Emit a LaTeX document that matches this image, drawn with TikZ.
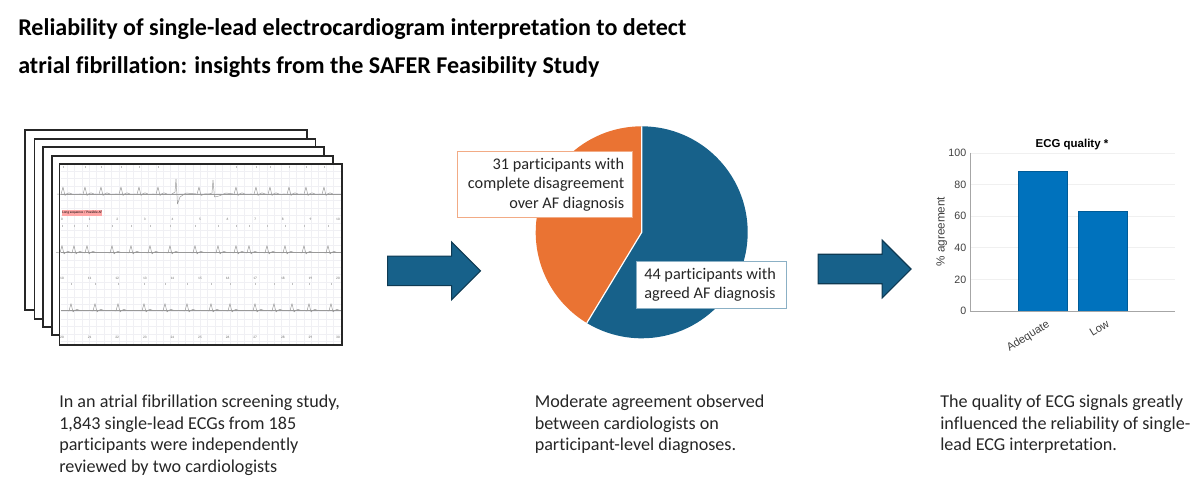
\documentclass[tikz,border=0pt]{standalone}
\usepackage{fontspec}
\setmainfont[Ligatures=CommonOff]{Carlito}
\newfontfamily\chartfont{Liberation Sans}
\usepackage{tikz}
\usetikzlibrary{shapes.arrows}
\definecolor{pieblue}{HTML}{17618A}
\definecolor{pieorange}{HTML}{EA7333}
\definecolor{barblue}{HTML}{0072BD}
\definecolor{chartgray}{HTML}{404040}
\tikzstyle{headline}=[anchor=base west, inner sep=0, font=\fontsize{18.05}{18}\selectfont\bfseries, text=black]
\tikzstyle{caption}=[anchor=north west, inner sep=0, align=flush left, font=\fontsize{13.6}{16.3}\selectfont, text=black!85]
\tikzstyle{piebox}=[rectangle, fill=white, inner xsep=6pt, inner ysep=0, outer sep=0, font=\fontsize{12.2}{14.5}\selectfont, text=black!85]
\tikzstyle{flowarrow}=[single arrow, anchor=tip, draw=pieblue!60!black, fill=pieblue, line width=.8pt, inner xsep=0, inner ysep=10.65pt, outer sep=0,
  minimum height=69.7pt, single arrow head extend=10.65pt, single arrow tip angle=90]
\tikzstyle{ecgsheet}=[draw=black!85, fill=white, line width=1.1pt]
\tikzstyle{ecgtrace}=[draw=black!40, line width=.35pt, line join=round]
\tikzstyle{ecggrid}=[draw=blue!30!black!6, line width=.2pt]
\tikzstyle{ecgnum}=[inner sep=0, font=\fontsize{2.6}{3}\selectfont, text=black!60]
\tikzstyle{ticklabel}=[inner sep=0, font=\chartfont\fontsize{8}{8}\selectfont, text=chartgray]
\tikzstyle{catlabel}=[inner sep=0, anchor=north east, rotate=32, font=\chartfont\fontsize{8.4}{8}\selectfont, text=chartgray]
\tikzstyle{barbox}=[fill=barblue, draw=barblue!80!black, line width=.3pt]
% one row of the strip: baseline, then beat positions
\newcommand{\ecgrow}[2]{
  \foreach \b in {#2}{
    \draw[ecgtrace] (\b-6,#1) -- (\b-2,#1-.4) -- (\b,#1+7) -- (\b+2,#1-1.5) -- (\b+3.5,#1) -- (\b+6,#1+1.2) -- (\b+9,#1);
    \draw[black!25, line width=.2pt] (\b,#1+28) -- (\b,#1+26);
  }
  \draw[ecgtrace] (60.5,#1) -- (341,#1);
}
\begin{document}
\begin{tikzpicture}[x=.75pt,y=.75pt]
\useasboundingbox (0,-486) rectangle (1200,0);
\node[headline] (title1) at (18,-35){Reliability of single-lead electrocardiogram interpretation to detect};
\node[headline] (title2) at (18,-73){atrial fibrillation: insights from the SAFER Feasibility Study};

% stack of sheets
\foreach \l/\t/\r/\bm in {25/130/307/310, 34.5/139/315.5/319, 43/147/324/327, 52/156/333/335, 59.5/164/342/345}
  \draw[ecgsheet] (\l,-\t) rectangle (\r,-\bm);
\foreach \gx in {67,74.4,...,340}
  \draw[ecggrid] (\gx,-165) -- (\gx,-344);
\foreach \gy in {171,178.4,...,344}
  \draw[ecggrid] (60.5,-\gy) -- (341,-\gy);
\ecgrow{-194}{63,85,101,121,139,158,236,256,270,289,306,324}
\draw[ecgtrace] (172,-194) -- (175,-192) -- (176,-179) -- (177.5,-204) -- (180,-197) -- (186,-193) -- (196,-194);
\draw[ecgtrace] (209,-194) -- (212,-193) -- (213,-180) -- (214.5,-197) -- (219,-196) -- (226,-193) -- (233,-194);
\draw[ecgtrace] (193,-194) -- (197,-194.4) -- (199,-187) -- (201,-195.5) -- (205,-193.8) -- (209,-194);
\ecgrow{-252.5}{62,74,87,112,131,150,170,195,218,236,249,267,285,304,328}
\ecgrow{-310.5}{71,95,118,144,165,187,211,230,255,274,292,309,331}
\node[fill=red!35, inner sep=0, minimum width=29pt, minimum height=4.3pt, font=\fontsize{2.6}{3}\selectfont] (flag) at (82.3,-213){Long sequence / Possible AF};
\foreach \k in {0,...,10}{
  \pgfmathtruncatemacro{\kb}{\k+10}
  \pgfmathtruncatemacro{\kc}{\k+20}
  \node[ecgnum] (numa\k) at (62+27.6*\k,-219.5){\k};
  \node[ecgnum] (numb\k) at (62+27.6*\k,-278){\kb};
  \node[ecgnum] (numc\k) at (62+27.6*\k,-337){\kc};
}
\draw[ecgsheet, fill=none] (59.5,-164) rectangle (342,-345);

\node[flowarrow] (arrow1) at (480.5,-270.8){};
\node[flowarrow] (arrow2) at (911,-269){};

% pie
\coordinate (piecenter) at (641.7,-232.3);
\fill[pieorange] (piecenter) -- ++(90:106) arc[start angle=90,end angle=238.8,radius=106] -- cycle;
\fill[pieblue] (piecenter) -- ++(90:106) arc[start angle=90,end angle=-121.2,radius=106] -- cycle;
\draw[white, line width=.9pt] (641.7,-126.3) -- (piecenter) -- ++(238.8:106);
\node[piebox, draw=pieorange!60, minimum width=131.2pt, minimum height=49.2pt, text width=119.2pt, align=flush right] (boxorange) at (544.8,-184.5)
  {31 participants with\\complete disagreement\\over AF diagnosis};
\node[piebox, draw=pieblue!50, minimum width=112.8pt, minimum height=34.7pt, text width=100.8pt, align=flush left] (boxblue) at (711.5,-284.8)
  {44 participants with\\agreed AF diagnosis};

% bar chart
\foreach \v in {20,40,...,100}
  \draw[black!6, line width=.3pt] (970.7,-311+1.583*\v) -- (1175,-311+1.583*\v);
\fill[barbox] (1018.3,-311) rectangle (1066.7,-171.3);
\fill[barbox] (1078.3,-311) rectangle (1126.7,-210.7);
\draw[black!35, line width=.5pt] (970.7,-152.7) -- (970.7,-311) -- (1175,-311);
\foreach \v in {0,20,...,100}
  \node[ticklabel, anchor=east] (tick\v) at (966.5,-311+1.583*\v){\v};
\node[inner sep=0, font=\chartfont\bfseries\fontsize{8.6}{9}\selectfont, text=black] (charttitle) at (1072,-145){ECG quality *};
\node[inner sep=0, rotate=90, font=\chartfont\fontsize{8.8}{9}\selectfont, text=chartgray] (ylabel) at (941.7,-231.7){\% agreement};
\node[catlabel] (catA) at (1046,-319){Adequate};
\node[catlabel] (catB) at (1106,-319){Low};

% captions
\node[caption] (text1) at (59,-394.5){In an atrial fibrillation screening study,\\1,843 single-lead ECGs from 185\\participants were independently\\reviewed by two cardiologists};
\node[caption] (text2) at (534.5,-394.5){Moderate agreement observed\\between cardiologists on\\participant-level diagnoses.};
\node[caption] (text3) at (940,-394.5){The quality of ECG signals greatly\\influenced the reliability of single-\\lead ECG interpretation.};
\end{tikzpicture}
\end{document}
